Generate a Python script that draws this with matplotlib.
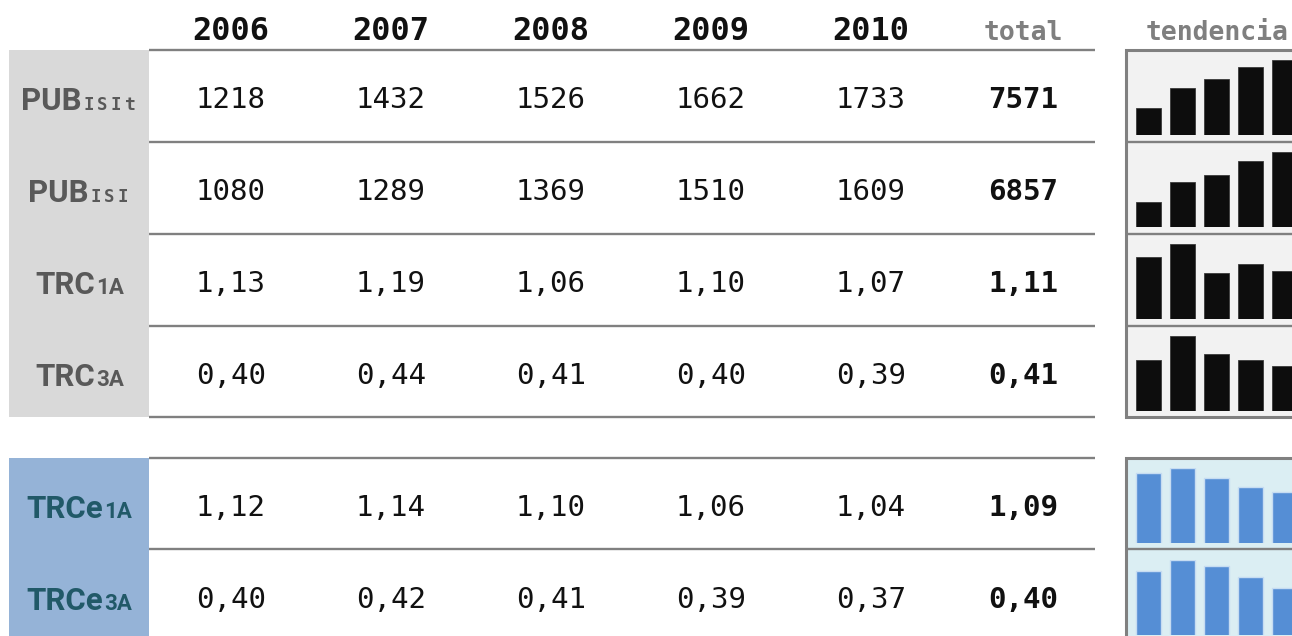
import matplotlib
matplotlib.use('Agg')
import matplotlib.pyplot as plt
from matplotlib.patches import Rectangle

# ===================== ДАННЫЕ =====================
years = ['2006', '2007', '2008', '2009', '2010']
row_main = ['PUB', 'PUB', 'TRC', 'TRC', 'TRCe', 'TRCe']
row_sub = ['ISIt', 'ISI', '1A', '3A', '1A', '3A']
values = [
    [1218, 1432, 1526, 1662, 1733],
    [1080, 1289, 1369, 1510, 1609],
    [1.13, 1.19, 1.06, 1.10, 1.07],
    [0.40, 0.44, 0.41, 0.40, 0.39],
    [1.12, 1.14, 1.10, 1.06, 1.04],
    [0.40, 0.42, 0.41, 0.39, 0.37],
]
totals = ['7571', '6857', '1,11', '0,41', '1,09', '0,40']
# нижняя граница шкалы мини-графиков (как в исходной картинке)
spark_floor = [928, 815, 0.854, 0.315, 0.8275, 0.286]

# ===================== СТИЛЬ =====================
W, H = 1292, 636
LINE = '#808080'
GRAY_BG = '#d9d9d9'
BLUE_BG = '#95b3d7'
GRAY_TXT = '#595959'
BLUE_TXT = '#215968'
SPARK_GRAY = '#f2f2f2'
SPARK_BLUE = '#dbeef3'
MONO = 'DejaVu Sans Mono'
LABEL = 'Roboto'
MAIN_SIZE, SUB_SIZE = 22.5, 16

col_x = [231, 391, 551, 711, 871]
total_x = 1023
row_top = [50, 142, 234, 326, 458, 550]
row_h = 92

fig = plt.figure(figsize=(W / 100, H / 100), dpi=100)
fig.patch.set_facecolor('white')
ax = fig.add_axes([0, 0, 1, 1])
ax.set_xlim(0, W)
ax.set_ylim(H, 0)
ax.axis('off')

# фон колонок с подписями
ax.add_patch(Rectangle((9, 50), 140, 367, facecolor=GRAY_BG, edgecolor='none'))
ax.add_patch(Rectangle((9, 458), 140, 190, facecolor=BLUE_BG, edgecolor='none'))

# заголовки
for x, y in zip(col_x, years):
    ax.text(x, 40, y, ha='center', va='baseline', family=MONO, fontsize=23,
            fontweight='bold', color='#111111')
ax.text(total_x, 40, 'total', ha='center', va='baseline', family=MONO, fontsize=19,
        fontweight='bold', color='#7f7f7f')
ax.text(1217, 40, 'tendencia', ha='center', va='baseline', family=MONO, fontsize=19,
        fontweight='bold', color='#7f7f7f')

# линии таблицы
for y in [50, 142, 234, 326, 417, 458, 549]:
    ax.plot([149, 1095], [y, y], color=LINE, lw=1.7, solid_capstyle='butt')

# панели мини-графиков
ax.add_patch(Rectangle((1126, 50), 200, 367, facecolor=SPARK_GRAY, edgecolor=LINE, lw=2.2))
ax.add_patch(Rectangle((1126, 458), 200, 200, facecolor=SPARK_BLUE, edgecolor=LINE, lw=2.2))
for y in [142, 234, 326, 549]:
    ax.plot([1126, W], [y, y], color=LINE, lw=1.7, solid_capstyle='butt')

renderer = fig.canvas.get_renderer()


def fmt(v):
    return str(v) if isinstance(v, int) else f'{v:.2f}'.replace('.', ',')


SUB_CELL = 13.8  # шаг символов моноширинного индекса (капитель)

for r in range(6):
    rc = row_top[r] + row_h / 2
    base = rc + 13.5
    txt_color = GRAY_TXT if r < 4 else BLUE_TXT
    # подпись строки: основной текст + нижний индекс
    t1 = ax.text(0, base, row_main[r], ha='left', va='baseline', family=LABEL,
                 fontsize=MAIN_SIZE, fontweight='bold', color=txt_color)
    w1 = t1.get_window_extent(renderer).width
    sub = row_sub[r]
    if sub[0].isdigit():
        t2 = ax.text(0, base, sub, ha='left', va='baseline', family=LABEL,
                     fontsize=SUB_SIZE, fontweight='bold', color=txt_color)
        w2 = t2.get_window_extent(renderer).width
        x0 = 79 - (w1 + w2) / 2
        t1.set_x(x0)
        t2.set_x(x0 + w1 + 1)
    else:
        w2 = len(sub) * SUB_CELL
        x0 = 79 - (w1 + w2) / 2
        t1.set_x(x0)
        for i, ch in enumerate(sub):
            ax.text(x0 + w1 + (i + 0.5) * SUB_CELL, base, ch, ha='center', va='baseline',
                    family=MONO, fontsize=12.5 if ch != 't' else 13, fontweight='bold',
                    color=txt_color)

    # значения
    for x, v in zip(col_x, values[r]):
        ax.text(x, rc + 12, fmt(v), ha='center', va='baseline', family=MONO,
                fontsize=21, color='#111111')
    ax.text(total_x, rc + 12, totals[r], ha='center', va='baseline', family=MONO,
            fontsize=21, fontweight='bold', color='#111111')

    # мини-график
    bottom_px = row_top[r] + row_h - 7
    top_px = row_top[r] + 10
    sax = fig.add_axes([1131.5 / W, 1 - bottom_px / H, 170 / W, (bottom_px - top_px) / H])
    sax.set_xlim(-0.5, 4.5)
    sax.set_ylim(spark_floor[r], max(values[r]))
    sax.axis('off')
    if r < 4:
        sax.bar(range(5), values[r], width=0.74, bottom=0, color='#0d0d0d',
                edgecolor='#3a3a3a', lw=0.6)
    else:
        sax.bar(range(5), values[r], width=0.74, bottom=0, color='#558ed5',
                edgecolor='#c6dcf2', lw=1.0)

fig.savefig('out.png', dpi=100)
plt.close()
